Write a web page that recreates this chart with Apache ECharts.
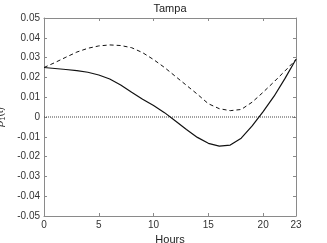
<!DOCTYPE html>
<html><head><meta charset="utf-8">
<script src="https://cdn.jsdelivr.net/npm/echarts@6/dist/echarts.min.js"></script>
<style>html,body{margin:0;padding:0;background:#fff}#c{width:327px;height:243px}</style>
</head><body><div id="c"></div>
<script>
var hours = [0,1,2,3,4,5,6,7,8,9,10,11,12,13,14,15,16,17,18,19,20,21,22,23];
var solidBeta = [0.0250,0.0245,0.0240,0.0234,0.0226,0.0212,0.0192,0.0162,0.0125,0.0090,0.0058,0.0022,-0.0020,-0.0063,-0.0103,-0.0133,-0.0147,-0.0142,-0.0107,-0.0045,0.0027,0.0105,0.0195,0.0292];
var dashedBeta = [0.0250,0.0275,0.0302,0.0328,0.0347,0.0359,0.0364,0.0361,0.0350,0.0325,0.0290,0.0250,0.0205,0.0160,0.0115,0.0067,0.0042,0.0032,0.0038,0.0075,0.0125,0.0178,0.0233,0.0290];
var zeroLine = [0,0];
var xTicks = [0,5,10,15,20,23];
var yMin = -0.05, yMax = 0.05, yStep = 0.01;

var font = 'Liberation Sans, Arial, sans-serif';
var axisCol = '#8a8a8a';
function pairs(xs, ys){ return xs.map(function(x,i){return [x, ys[i]];}); }

var chart = echarts.init(document.getElementById('c'), null, {renderer:'canvas'});
chart.setOption({
  animation:false,
  title:{text:'Tampa', left:170, top:3, padding:0, textAlign:'center',
    textStyle:{fontFamily:font, fontSize:11, fontWeight:'normal', color:'#222'}},
  grid:{left:44, right:31, top:18, bottom:27, containLabel:false, outerBoundsMode:'none'},
  xAxis:[{
    type:'value', min:0, max:23, interval:5,
    name:'Hours', nameLocation:'middle', nameGap:15,
    nameTextStyle:{fontFamily:font, fontSize:11, color:'#222'},
    axisLine:{onZero:false, lineStyle:{color:axisCol, width:1}},
    axisTick:{inside:true, length:3, lineStyle:{color:axisCol}, customValues:xTicks},
    axisLabel:{fontFamily:font, fontSize:10, color:'#333', margin:4, customValues:xTicks},
    splitLine:{show:false}
  },{
    type:'value', min:0, max:23, interval:5, position:'top',
    axisLine:{onZero:false, lineStyle:{color:axisCol, width:1}},
    axisTick:{inside:true, length:3, lineStyle:{color:axisCol}},
    axisLabel:{show:false}, splitLine:{show:false}
  }],
  yAxis:[{
    type:'value', min:yMin, max:yMax, interval:yStep,
    name:'{b|β}{s|1}{n|(t)}', nameLocation:'middle', nameRotate:90, nameGap:26,
    nameTextStyle:{rich:{
      b:{fontFamily:'DejaVu Serif, serif', fontStyle:'italic', fontSize:11, color:'#333'},
      s:{fontFamily:font, fontSize:7, color:'#333', verticalAlign:'bottom', padding:[6,0,0,0]},
      n:{fontFamily:font, fontSize:10, color:'#333'}
    }},
    axisLine:{onZero:false, lineStyle:{color:axisCol, width:1}},
    axisTick:{inside:true, length:3, lineStyle:{color:axisCol}},
    axisLabel:{fontFamily:font, fontSize:10, color:'#333', margin:4,
      formatter:function(v){ var r=Math.round(v*100)/100; return r===0?'0':r.toFixed(2);} },
    splitLine:{show:false}
  },{
    type:'value', min:yMin, max:yMax, interval:yStep, position:'right',
    axisLine:{onZero:false, lineStyle:{color:axisCol, width:1}},
    axisTick:{inside:true, length:3, lineStyle:{color:axisCol}},
    axisLabel:{show:false}, splitLine:{show:false}
  }],
  series:[
    {type:'line', data:pairs([0,23], zeroLine), symbol:'none',
     lineStyle:{color:'#444', width:1, type:[1,1]}, silent:true},
    {type:'line', data:pairs(hours, dashedBeta), symbol:'none',
     lineStyle:{color:'#111', width:1, type:[4,3]}},
    {type:'line', data:pairs(hours, solidBeta), symbol:'none',
     lineStyle:{color:'#111', width:1.2}}
  ]
});
</script></body></html>
